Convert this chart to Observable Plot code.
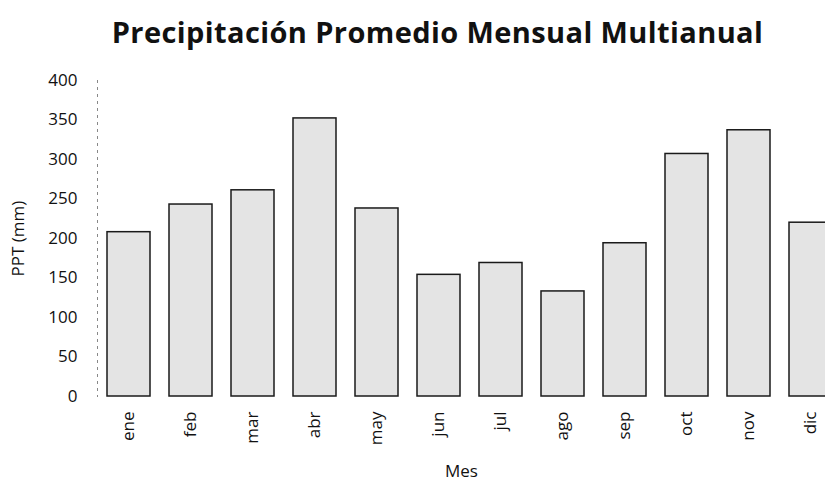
<!DOCTYPE html>
<html><head><meta charset="utf-8">
<script src="https://cdn.jsdelivr.net/npm/d3@7"></script>
<script src="https://cdn.jsdelivr.net/npm/@observablehq/plot@0.6"></script>
<style>
html,body{margin:0;padding:0;background:#fff;overflow:hidden;width:825px;height:483px;}
#title{height:58px;box-sizing:border-box;padding-top:12px;text-align:center;font-family:"Open Sans",sans-serif;font-weight:bold;font-size:29px;letter-spacing:0.4px;color:#111;padding-left:50px;white-space:nowrap;}
#chart svg text, #chart svg g{font-size:17px !important;}
</style></head><body>
<div id="title">Precipitación Promedio Mensual Multianual</div>
<div id="chart"></div>
<script>
const months = ["ene","feb","mar","abr","may","jun","jul","ago","sep","oct","nov","dic"];
const ppt = [208, 243, 261, 352, 238, 154, 169, 133, 194, 307, 337, 220];
const yTicks = [0, 50, 100, 150, 200, 250, 300, 350, 400];

const data = months.map((m, i) => ({mes: m, ppt: ppt[i]}));

const chart = Plot.plot({
  width: 825,
  height: 425,
  marginTop: 22,
  marginBottom: 87,
  marginLeft: 97,
  marginRight: 0,
  style: {fontFamily: "'Open Sans', sans-serif", fontSize: "17px", color: "#111", background: "#fff", overflow: "visible"},
  x: {domain: months, range: [86, 853], paddingInner: 0.31, paddingOuter: 0.31},
  y: {domain: [0, 400]},
  marks: [
    Plot.axisY({ticks: yTicks, tickSize: 0, tickPadding: 20, label: "PPT (mm)", labelAnchor: "center", labelOffset: 86, labelArrow: "none", fontSize: 17}),
    Plot.axisX({tickSize: 0, tickPadding: 15, tickRotate: -90, label: "Mes", labelAnchor: "center", labelOffset: 80, labelArrow: "none", fontSize: 17}),
    Plot.frame({anchor: "left", stroke: "#888", strokeDasharray: "2,5"}),
    Plot.barY(data, {x: "mes", y: "ppt", fill: "#e4e4e4", stroke: "#1a1a1a", strokeWidth: 1.5})
  ]
});
document.getElementById("chart").appendChild(chart);
</script>
</body></html>
